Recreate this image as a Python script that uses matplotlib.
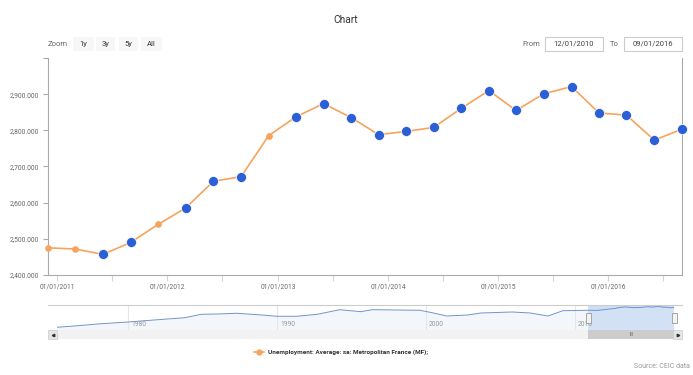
import numpy as np
import matplotlib
matplotlib.use("Agg")
import matplotlib.pyplot as plt
import matplotlib.dates as mdates
from matplotlib.patches import Rectangle
from matplotlib.lines import Line2D

plt.rcParams['font.family'] = ['Roboto', 'DejaVu Sans']

# main series: quarterly, thousands
dates = ["2010-12-01", "2011-03-01", "2011-06-01", "2011-09-01", "2011-12-01", "2012-03-01",
         "2012-06-01", "2012-09-01", "2012-12-01", "2013-03-01", "2013-06-01", "2013-09-01",
         "2013-12-01", "2014-03-01", "2014-06-01", "2014-09-01", "2014-12-01", "2015-03-01",
         "2015-06-01", "2015-09-01", "2015-12-01", "2016-03-01", "2016-06-01", "2016-09-01"]
values = [2475, 2472, 2457, 2490, 2540, 2585, 2659, 2672, 2785, 2837, 2874, 2835,
          2788, 2797, 2808, 2861, 2910, 2855, 2901, 2921, 2848, 2842, 2773, 2803]
# points drawn with the big blue marker
highlighted = [False, False, True, True, False, True, True, True, False, True, True, True,
               True, True, True, True, True, True, True, True, True, True, True, True]

y_ticks = [2400, 2500, 2600, 2700, 2800, 2900, 3000]

# navigator history before the main range (decimal years)
nav_years = [1975.2, 1976.6, 1978.2, 1980.0, 1981.1, 1982.9, 1983.8, 1984.9, 1986.0,
             1987.3, 1988.7, 1990.0, 1991.3, 1992.7, 1994.2, 1995.6, 1996.4, 1999.6,
             2000.5, 2001.4, 2002.8, 2003.7, 2005.8, 2007.0, 2008.2, 2009.2]
nav_values = [435, 627, 867, 1071, 1227, 1467, 1587, 1995, 2031, 2115, 1947, 1755, 1755,
              1995, 2547, 2307, 2547, 2475, 2151, 1791, 1911, 2151, 2271, 2151, 1791, 2427]
nav_label_years = [1980, 1990, 2000, 2010]

ORANGE = "#f7a35c"
BLUE = "#2b5fd6"
W, H = 693, 375


def box(l, t, r, b):
    return [l / W, 1 - b / H, (r - l) / W, (b - t) / H]


def fig_rect(fig, l, t, r, b, **kw):
    fig.add_artist(Rectangle((l / W, 1 - b / H), (r - l) / W, (b - t) / H,
                             transform=fig.transFigure, **kw))


fig = plt.figure(figsize=(W / 100, H / 100), dpi=100)

# ---- main chart
ax = fig.add_axes(box(48, 58, 682, 275))
x = mdates.date2num(np.array(dates, dtype="datetime64[D]"))
v = np.array(values)
hl = np.array(highlighted)
ax.plot(x, v, color=ORANGE, lw=1.2, zorder=2, clip_on=False)
ax.plot(x[~hl], v[~hl], "o", ms=3.8, color=ORANGE, zorder=3, clip_on=False)
ax.plot(x[hl], v[hl], "o", ms=7.2, color=BLUE, mec="white", mew=0.5, zorder=4, clip_on=False)

ax.set_xlim(x[0], x[-1])
ax.set_ylim(y_ticks[0], y_ticks[-1])
ax.set_yticks(y_ticks)
ax.set_yticklabels([f"{t:,}.000" if t < y_ticks[-1] else "" for t in y_ticks])
ax.xaxis.set_major_locator(mdates.YearLocator())
ax.xaxis.set_minor_locator(mdates.MonthLocator(bymonth=7))
ax.xaxis.set_major_formatter(mdates.DateFormatter("%m/%d/%Y"))
ax.tick_params(axis="y", length=3.5, width=0.8, color="#aaaaaa", pad=3,
               labelsize=4.9, labelcolor="#666666")
ax.tick_params(axis="x", which="both", length=4, width=0.8, color="#ccd6eb", pad=2,
               labelsize=4.8, labelcolor="#666666")
ax.spines["top"].set_visible(False)
for s in ("left", "bottom", "right"):
    ax.spines[s].set_color("#aaaaaa")
    ax.spines[s].set_linewidth(0.8)

# ---- title and range selector
fig.text(346 / W, 1 - 20 / H, "Chart", ha="center", va="center", fontsize=7.3, color="#333333")
fig.text(48 / W, 1 - 44 / H, "Zoom", ha="left", va="center", fontsize=5.5, color="#666666")
for label, l, r in [("1y", 73, 94), ("3y", 96, 115), ("5y", 119, 138), ("All", 141, 162)]:
    fig_rect(fig, l, 37, r, 51, facecolor="#f7f7f7", edgecolor="none")
    fig.text((l + r) / 2 / W, 1 - 44 / H, label, ha="center", va="center",
             fontsize=5.5, color="#333333")
fig.text(531 / W, 1 - 44 / H, "From", ha="center", va="center", fontsize=5.5, color="#666666")
fig.text(614 / W, 1 - 44 / H, "To", ha="center", va="center", fontsize=5.5, color="#666666")
for label, l, r in [("12/01/2010", 545, 603), ("09/01/2016", 624, 682)]:
    fig_rect(fig, l, 37, r, 51, facecolor="white", edgecolor="#cccccc", lw=0.8)
    fig.text((l + r) / 2 / W, 1 - 44 / H, label, ha="center", va="center",
             fontsize=5.5, color="#444444")

# ---- navigator
nav = fig.add_axes(box(57, 305, 674, 330))
nx = np.concatenate([nav_years, 1970 + x / 365.2425])
nv = np.concatenate([nav_values, values])
sel0, sel1 = 1970 + x[0] / 365.2425, nx[-1]
nav.axvspan(sel0, sel1, color="#cddff5", lw=0, zorder=1)
nav.fill_between(nx, nv, 0, color="#dfe7f5", alpha=0.35, lw=0, zorder=2)
nav.plot(nx, nv, color="#7393cb", lw=0.7, zorder=3)
nav.set_xlim(nav_years[0], nx[-1])
nav.set_ylim(110, 3110)
for yr in nav_label_years:
    nav.axvline(yr, color="#e6e6e6", lw=0.8, zorder=0)
    nav.text(yr + 0.2, 0.2, str(yr), transform=nav.get_xaxis_transform(),
             ha="left", va="center", fontsize=4.8, color="#999999", zorder=4)
nav.set_xticks([])
nav.set_yticks([])
for s in nav.spines.values():
    s.set_visible(False)
fig.add_artist(Line2D([48 / W, 682 / W], [1 - 305 / H] * 2, color="#cccccc", lw=0.8,
                      transform=fig.transFigure))

# pixel x of the selected range
p0 = nav.transData.transform((sel0, 0))[0]
p1 = nav.transData.transform((sel1, 0))[0]
for p in (p0, p1):
    fig_rect(fig, p - 2.5, 313, p + 2.5, 323, facecolor="#f2f2f2", edgecolor="#999999",
             lw=0.6, zorder=5)

# ---- scrollbar
fig_rect(fig, 48, 330, 682, 339, facecolor="#f2f2f2", edgecolor="none")
fig_rect(fig, p0, 330, p1, 339, facecolor="#cccccc", edgecolor="none")
fig.text((p0 + p1) / 2 / W, 1 - 334.5 / H, "III", ha="center", va="center",
         fontsize=3.5, color="#333333")
for l, r, m in [(48, 57, "<"), (673, 682, ">")]:
    fig_rect(fig, l, 330, r, 339, facecolor="#e6e6e6", edgecolor="#cccccc", lw=0.5)
    fig.add_artist(Line2D([(l + r) / 2 / W], [1 - 334.5 / H], marker=m, ms=1.8,
                          color="#333333", transform=fig.transFigure))

# ---- legend and credits
fig.add_artist(Line2D([254 / W, 264 / W], [1 - 352 / H] * 2, color=ORANGE, lw=1.2,
                      transform=fig.transFigure))
fig.add_artist(Line2D([259 / W], [1 - 352 / H], marker="o", ms=3.5, color=ORANGE,
                      transform=fig.transFigure))
fig.text(268 / W, 1 - 352 / H, "Unemployment: Average: sa: Metropolitan France (MF);",
         ha="left", va="center", fontsize=4.6, fontweight="bold", color="#333333")
fig.text(690 / W, 1 - 367 / H, "Source: CEIC data", ha="right", va="center",
         fontsize=5, color="#999999")

fig.savefig("out.png", dpi=100)
